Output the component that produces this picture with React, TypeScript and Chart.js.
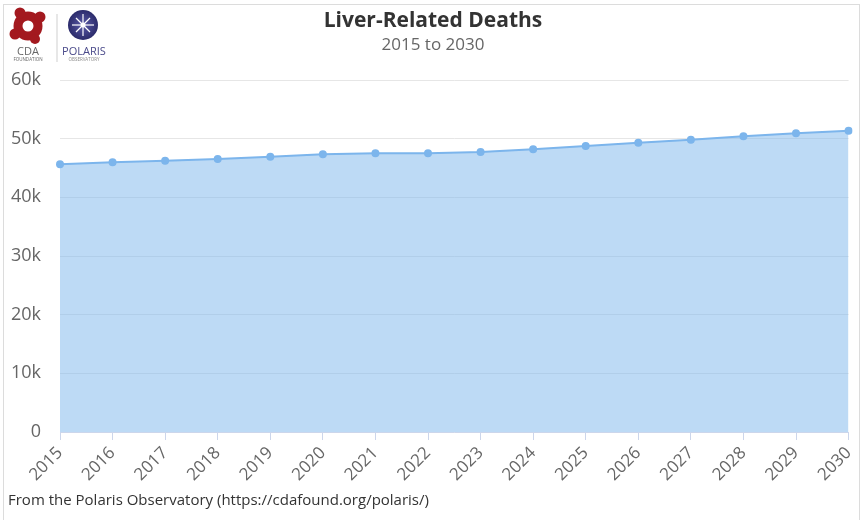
import React, { useEffect, useRef } from "react";
import { Chart, registerables } from "chart.js";

Chart.register(...registerables);

const years = ["2015","2016","2017","2018","2019","2020","2021","2022","2023","2024","2025","2026","2027","2028","2029","2030"];
const deaths = [45630, 45970, 46240, 46530, 46930, 47330, 47500, 47500, 47730, 48180, 48750, 49310, 49820, 50400, 50910, 51360];
const yTicks = [0, 10000, 20000, 30000, 40000, 50000, 60000];

const titleText = "Liver-Related Deaths";
const subtitleText = "2015 to 2030";
const footerText = "From the Polaris Observatory (https://cdafound.org/polaris/)";

const FONT = "'Open Sans', 'DejaVu Sans', sans-serif";

export default function App() {
  const ref = useRef<HTMLCanvasElement | null>(null);

  useEffect(() => {
    if (!ref.current) return;
    const chart = new Chart(ref.current, {
      type: "line",
      data: {
        labels: years,
        datasets: [
          {
            label: "Liver-Related Deaths",
            data: deaths,
            borderColor: "#7cb5ec",
            backgroundColor: "rgba(124,181,236,0.5)",
            borderWidth: 2,
            fill: "origin",
            tension: 0,
            pointRadius: 4,
            pointBackgroundColor: "#7cb5ec",
            pointBorderWidth: 0,
          },
        ],
      },
      options: {
        animation: false,
        responsive: false,
        maintainAspectRatio: false,
        layout: { padding: { top: 80, left: 0, right: 14, bottom: 0 } },
        plugins: {
          legend: { display: false },
          title: { display: false },
          tooltip: { enabled: false },
        },
        scales: {
          x: {
            offset: false,
            grid: {
              display: true,
              drawOnChartArea: false,
              drawTicks: true,
              tickLength: 8,
              color: "#ccd6eb",
            },
            border: { display: true, color: "#ccd6eb", width: 1 },
            ticks: {
              color: "#666666",
              font: { family: FONT, size: 17 },
              maxRotation: 45,
              minRotation: 45,
              autoSkip: false,
              padding: 3,
            },
            afterFit: (scale: any) => {
              scale.height = 88;
            },
          },
          y: {
            min: 0,
            max: 60000,
            afterBuildTicks: (scale: any) => {
              scale.ticks = yTicks.map((v) => ({ value: v }));
            },
            grid: { color: "#e6e6e6", drawTicks: false },
            border: { display: false },
            ticks: {
              color: "#666666",
              font: { family: FONT, size: 18 },
              padding: 19,
              callback: (v: any) => (Number(v) === 0 ? "0" : Number(v) / 1000 + "k"),
            },
            afterFit: (scale: any) => {
              scale.width = 60;
            },
          },
        },
      },
    });
    return () => chart.destroy();
  }, []);

  return (
    <div style={{ position: "absolute", left: 0, top: 0, width: 866, height: 520, background: "#fff", overflow: "hidden", fontFamily: FONT }}>
      <div style={{ position: "absolute", left: 3, top: 4, width: 855, height: 530, border: "1px solid #dcdcdc" }} />
      <canvas ref={ref} width={866} height={520} style={{ position: "absolute", left: 0, top: 0 }} />
      <div style={{ position: "absolute", left: 0, top: 5, width: 866, textAlign: "center", fontSize: 21, fontWeight: 700, color: "#333333" }}>{titleText}</div>
      <div style={{ position: "absolute", left: 0, top: 32, width: 866, textAlign: "center", fontSize: 17, color: "#666666" }}>{subtitleText}</div>
      <div style={{ position: "absolute", left: 8, top: 489, fontSize: 15, color: "#333333", whiteSpace: "nowrap" }}>{footerText}</div>
      <svg style={{ position: "absolute", left: 0, top: 0 }} width={120} height={66}>
        <defs>
          <radialGradient id="pg" cx="50%" cy="50%" r="50%">
            <stop offset="0%" stopColor="#5a5aa8" />
            <stop offset="100%" stopColor="#2b2b6b" />
          </radialGradient>
        </defs>
        <circle cx={28} cy={26} r={10} fill="none" stroke="#a3191f" strokeWidth={9} />
        <g fill="#a3191f">
          <circle cx={20} cy={13} r={5.5} />
          <circle cx={40} cy={17} r={5.5} />
          <circle cx={15} cy={34} r={5.5} />
          <circle cx={35} cy={39} r={5} />
        </g>
        <polygon points="24,23 33,26 25,31" fill="#fff" />
        <text x={28} y={55} textAnchor="middle" fontSize={11} fill="#666" fontFamily={FONT}>CDA</text>
        <text x={28} y={61} textAnchor="middle" fontSize={4.5} fill="#666" fontFamily={FONT}>FOUNDATION</text>
        <line x1={57} y1={14} x2={57} y2={62} stroke="#cfcfcf" strokeWidth={1} />
        <circle cx={83} cy={25} r={15} fill="url(#pg)" />
        <g stroke="#fff" strokeWidth={1.2}>
          <line x1={83} y1={14} x2={83} y2={36} />
          <line x1={72} y1={25} x2={94} y2={25} />
          <line x1={76} y1={18} x2={90} y2={32} />
          <line x1={90} y1={18} x2={76} y2={32} />
        </g>
        <circle cx={83} cy={25} r={2.5} fill="#fff" />
        <text x={84} y={55} textAnchor="middle" fontSize={11} fill="#4a4a8a" fontFamily={FONT}>POLARIS</text>
        <text x={84} y={61} textAnchor="middle" fontSize={4.5} fill="#888" fontFamily={FONT}>OBSERVATORY</text>
      </svg>
    </div>
  );
}
